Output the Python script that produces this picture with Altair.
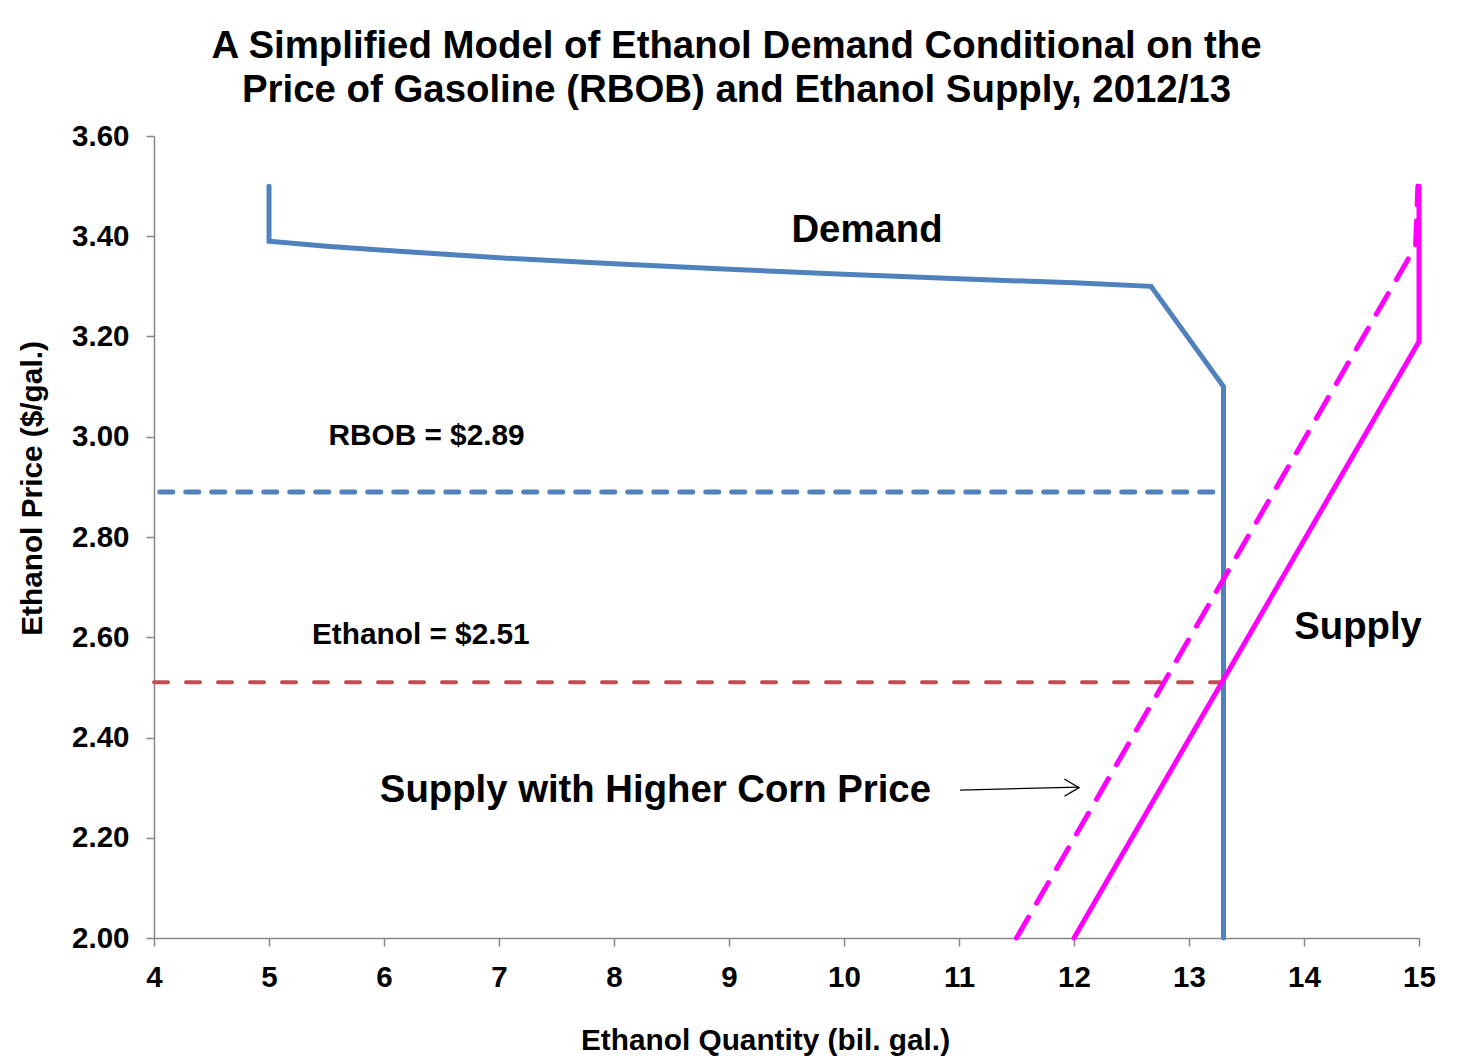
import altair as alt
import pandas as pd

# ---- data ----
demand_q = [5.0, 5.0, 5.5, 6.0, 7.0, 8.0, 9.0, 10.0, 11.0, 12.0, 12.67, 13.3, 13.3]
demand_p = [3.50, 3.39, 3.38, 3.372, 3.357, 3.345, 3.334, 3.324, 3.315, 3.307, 3.30, 3.10, 2.00]

supply_q = [12.0, 15.0, 15.0]
supply_p = [2.00, 3.19, 3.50]

supply_hi_q = [11.5, 14.97, 14.99]
supply_hi_p = [2.00, 3.38, 3.50]

rbob_q = [4.05, 13.3]
rbob_p = [2.89, 2.89]

eth_q = [4.0, 13.3]
eth_p = [2.51, 2.51]

label_text = ["Demand", "RBOB = $2.89", "Ethanol = $2.51", "Supply", "Supply with Higher Corn Price"]
label_q = [10.2, 6.37, 6.32, 14.47, 8.36]
label_p = [3.410, 3.002, 2.605, 2.618, 2.294]
label_size = [38.3, 29.8, 29.8, 38.3, 38.3]

arrow_q = [11.01, 12.04]
arrow_p = [2.295, 2.301]
arrow_head_q = [11.98]
arrow_head_p = [2.300]

x_ticks = list(range(4, 16))
y_ticks = [2.0, 2.2, 2.4, 2.6, 2.8, 3.0, 3.2, 3.4, 3.6]

FONT = "Liberation Sans"
AXIS_GRAY = "#868686"


def frame(q, p):
    return pd.DataFrame({"q": q, "p": p, "i": list(range(len(q)))})


xs = alt.Scale(domain=[4, 15], nice=False, zero=False)
ys = alt.Scale(domain=[2.0, 3.6], nice=False, zero=False)

x_axis = alt.Axis(
    values=x_ticks, format="d", title="Ethanol Quantity (bil. gal.)",
    grid=False, titleX=611, titleY=102, titleBaseline="middle", titleAlign="center",
    labelFlush=False, labelOverlap=False,
)
y_axis = alt.Axis(
    values=y_ticks, format=".2f", title="Ethanol Price ($/gal.)",
    grid=False, titleX=-122, titleY=352, titleBaseline="middle", titleAlign="center",
    labelFlush=False, labelOverlap=False,
)


def enc(ch):
    return ch.encode(
        x=alt.X("q:Q", scale=xs, axis=x_axis),
        y=alt.Y("p:Q", scale=ys, axis=y_axis),
        order="i:O",
    )


demand = enc(alt.Chart(frame(demand_q, demand_p)).mark_line(
    color="#4F81BD", strokeWidth=5, strokeJoin="miter", strokeCap="round"))

rbob = enc(alt.Chart(frame(rbob_q, rbob_p)).mark_line(
    color="#4F81BD", strokeWidth=5, strokeDash=[13, 13], strokeCap="round"))

eth = enc(alt.Chart(frame(eth_q, eth_p)).mark_line(
    color="#C0504D", strokeWidth=4, strokeDash=[14, 18], strokeCap="round"))

supply = enc(alt.Chart(frame(supply_q, supply_p)).mark_line(
    color="#FF00FF", strokeWidth=5, strokeJoin="miter", strokeCap="round"))

supply_hi = enc(alt.Chart(frame(supply_hi_q, supply_hi_p)).mark_line(
    color="#FF00FF", strokeWidth=5, strokeDash=[24, 16], strokeCap="round"))

arrow = enc(alt.Chart(frame(arrow_q, arrow_p)).mark_line(
    color="black", strokeWidth=1.3))

arrow_head = alt.Chart(frame(arrow_head_q, arrow_head_p)).mark_point(
    shape="M -0.85 -1 L 0.85 0 L -0.85 1", filled=False, stroke="black",
    strokeWidth=1.3, size=300, opacity=1,
).encode(
    x=alt.X("q:Q", scale=xs, axis=x_axis),
    y=alt.Y("p:Q", scale=ys, axis=y_axis),
)

labels_df = pd.DataFrame({"q": label_q, "p": label_p, "t": label_text, "s": label_size})
labels = alt.Chart(labels_df).mark_text(
    font=FONT, fontWeight="bold", color="black", align="center", baseline="middle",
).encode(
    x=alt.X("q:Q", scale=xs, axis=x_axis),
    y=alt.Y("p:Q", scale=ys, axis=y_axis),
    text="t:N",
    size=alt.Size("s:Q", scale=None, legend=None),
)

chart = alt.layer(
    rbob, eth, demand, supply_hi, supply, arrow, arrow_head, labels
).properties(
    width=1265,
    height=802,
    autosize=alt.AutoSizeParams(type="none"),
    padding={"left": 146, "top": 128, "right": 30, "bottom": 118},
    title=alt.TitleParams(
        text=["A Simplified Model of Ethanol Demand Conditional on the",
              "Price of Gasoline (RBOB) and Ethanol Supply, 2012/13"],
        font=FONT, fontSize=38.4, fontWeight="bold", color="black",
        anchor="middle", frame="group", dx=-50, offset=11, lineHeight=44,
    ),
).configure_view(
    stroke=None
).configure_axis(
    labelFont=FONT, labelFontSize=29.5, labelFontWeight="bold", labelColor="black",
    titleFont=FONT, titleFontSize=29.8, titleFontWeight="bold", titleColor="black",
    domainColor=AXIS_GRAY, domainWidth=1.5, tickColor=AXIS_GRAY, tickWidth=1.5,
    tickSize=8, labelPadding=17,
)

chart.save("out.html", embed_options={"renderer": "svg", "actions": False})
